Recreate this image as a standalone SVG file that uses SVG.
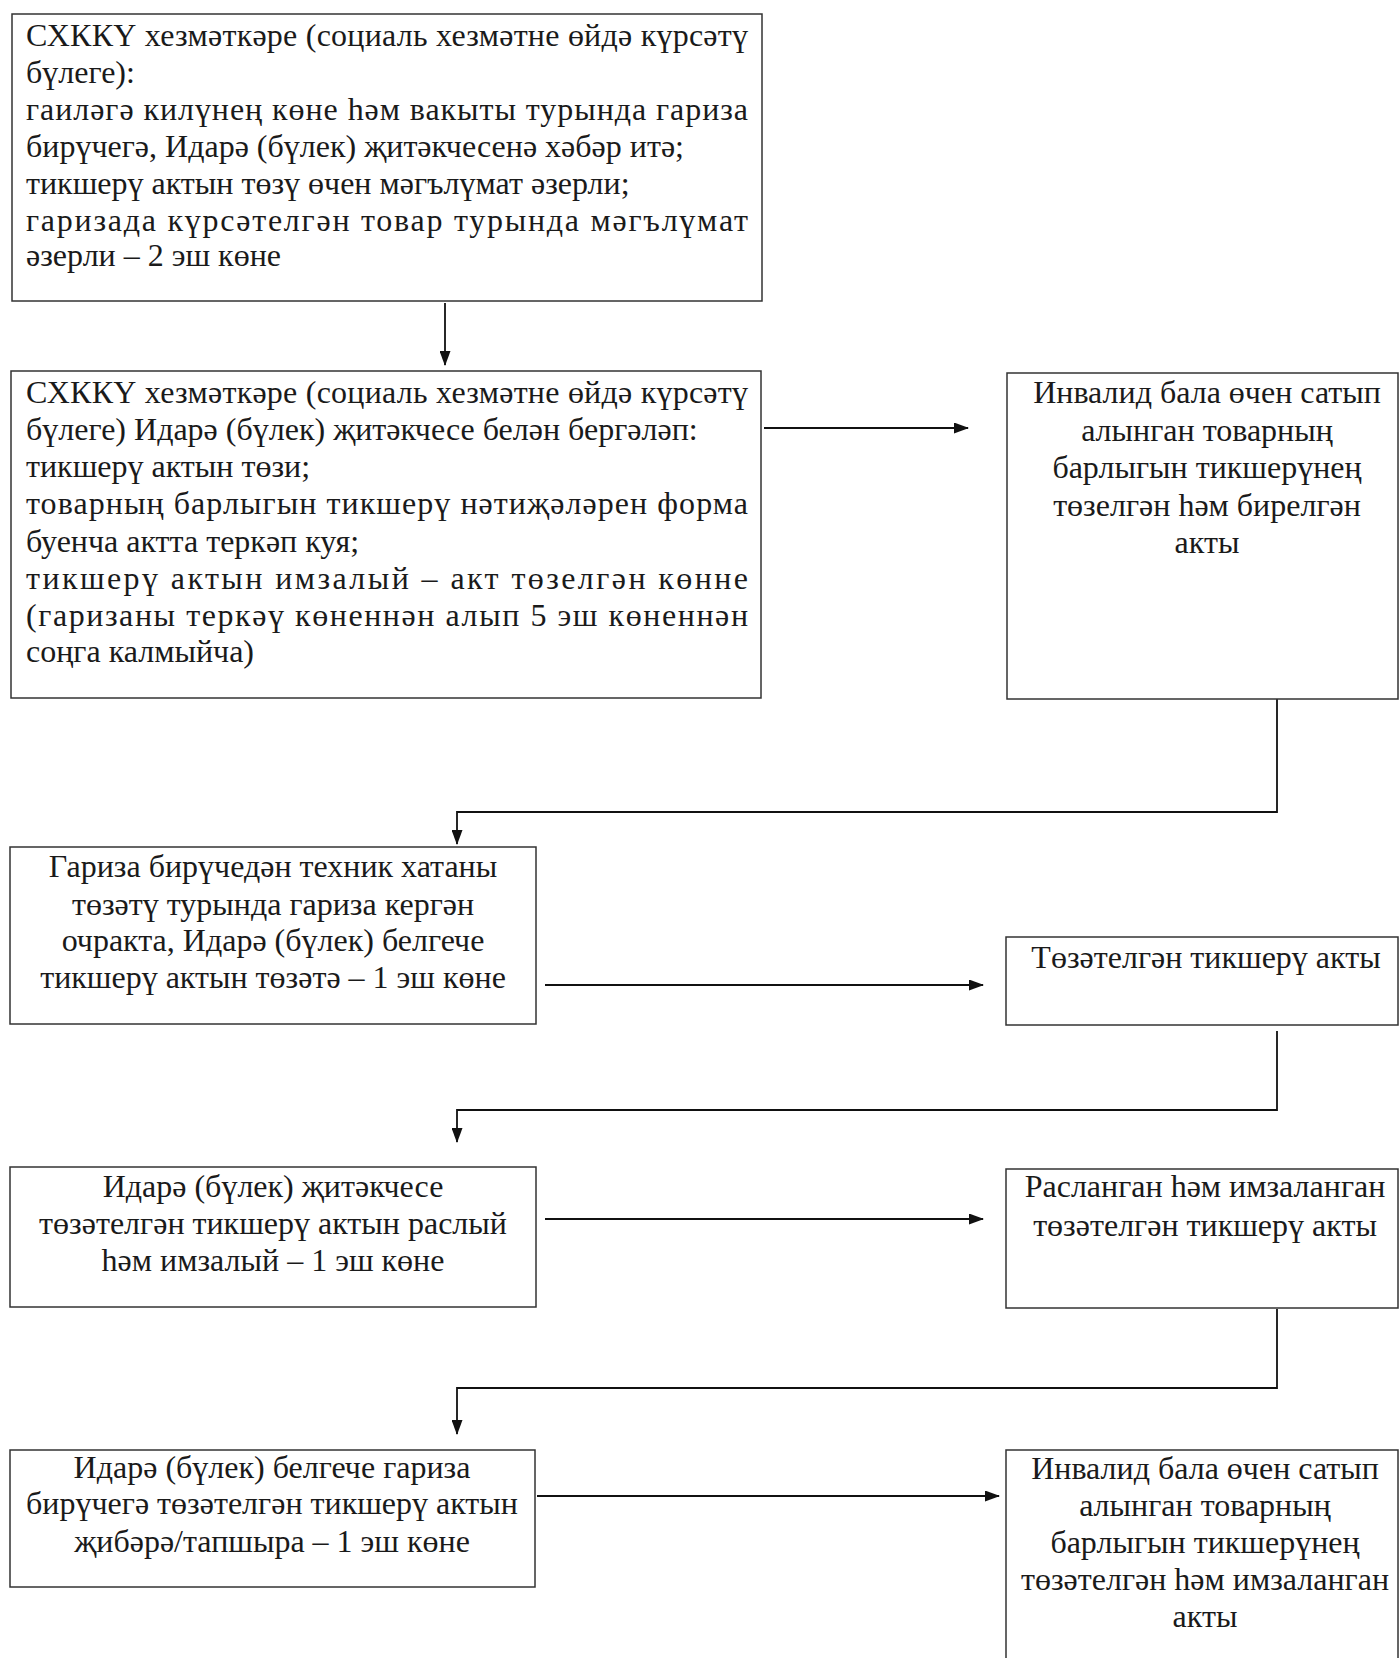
<svg xmlns="http://www.w3.org/2000/svg" width="1399" height="1658" viewBox="0 0 1399 1658">
<style>
.box{fill:#fff;stroke:#333;stroke-width:1.5}
.t{font-family:"Liberation Serif","DejaVu Serif",serif;font-size:32px;fill:#1a1a1a}
.c{text-anchor:middle}
.ln{fill:none;stroke:#111;stroke-width:1.8}
</style>
<defs>
<marker id="ah" markerWidth="15" markerHeight="11" refX="14" refY="5.5" orient="auto" markerUnits="userSpaceOnUse">
<path d="M0,0 L15,5.5 L0,11 Z" fill="#111"/>
</marker>
</defs>
<rect width="1399" height="1658" fill="#fff"/>
<g id="connectors">
<path class="ln" d="M445,303 V365" marker-end="url(#ah)"/>
<path class="ln" d="M764,428 H968" marker-end="url(#ah)"/>
<path class="ln" d="M1277,699 V812 H457 V844" marker-end="url(#ah)"/>
<path class="ln" d="M545,985 H983" marker-end="url(#ah)"/>
<path class="ln" d="M1277,1031 V1110 H457 V1142" marker-end="url(#ah)"/>
<path class="ln" d="M545,1219 H983" marker-end="url(#ah)"/>
<path class="ln" d="M1277,1309 V1388 H457 V1434" marker-end="url(#ah)"/>
<path class="ln" d="M537,1496 H999" marker-end="url(#ah)"/>
</g>
<g id="n1">
<rect class="box" x="12" y="14" width="750" height="287"/>
<text class="t" x="26" y="46" textLength="722" lengthAdjust="spacing">СХККҮ хезмәткәре (социаль хезмәтне өйдә күрсәтү</text>
<text class="t" x="26" y="83">бүлеге):</text>
<text class="t" x="26" y="120" textLength="722" lengthAdjust="spacing">гаиләгә килүнең көне һәм вакыты турында гариза</text>
<text class="t" x="26" y="157">бирүчегә, Идарә (бүлек) җитәкчесенә хәбәр итә;</text>
<text class="t" x="26" y="194">тикшерү актын төзү өчен мәгълүмат әзерли;</text>
<text class="t" x="26" y="231" textLength="722" lengthAdjust="spacing">гаризада күрсәтелгән товар турында мәгълүмат</text>
<text class="t" x="26" y="266">әзерли – 2 эш көне</text>
</g>
<g id="n2">
<rect class="box" x="11" y="371" width="750" height="327"/>
<text class="t" x="26" y="403" textLength="722" lengthAdjust="spacing">СХККҮ хезмәткәре (социаль хезмәтне өйдә күрсәтү</text>
<text class="t" x="26" y="440">бүлеге) Идарә (бүлек) җитәкчесе белән бергәләп:</text>
<text class="t" x="26" y="477">тикшерү актын төзи;</text>
<text class="t" x="26" y="514" textLength="722" lengthAdjust="spacing">товарның барлыгын тикшерү нәтиҗәләрен форма</text>
<text class="t" x="26" y="552">буенча актта теркәп куя;</text>
<text class="t" x="26" y="589" textLength="722" lengthAdjust="spacing">тикшерү актын имзалый – акт төзелгән көнне</text>
<text class="t" x="26" y="626" textLength="722" lengthAdjust="spacing">(гаризаны теркәү көненнән алып 5 эш көненнән</text>
<text class="t" x="26" y="662">соңга калмыйча)</text>
</g>
<g id="n3">
<rect class="box" x="1007" y="373" width="391" height="326"/>
<text class="t c" x="1207" y="403">Инвалид бала өчен сатып</text>
<text class="t c" x="1207" y="441">алынган товарның</text>
<text class="t c" x="1207" y="478">барлыгын тикшерүнең</text>
<text class="t c" x="1207" y="516">төзелгән һәм бирелгән</text>
<text class="t c" x="1207" y="553">акты</text>
</g>
<g id="n4">
<rect class="box" x="10" y="847" width="526" height="177"/>
<text class="t c" x="273" y="877">Гариза бирүчедән техник хатаны</text>
<text class="t c" x="273" y="915">төзәтү турында гариза кергән</text>
<text class="t c" x="273" y="951">очракта, Идарә (бүлек) белгече</text>
<text class="t c" x="273" y="988">тикшерү актын төзәтә – 1 эш көне</text>
</g>
<g id="n5">
<rect class="box" x="1006" y="937" width="392" height="88"/>
<text class="t c" x="1206" y="968">Төзәтелгән тикшерү акты</text>
</g>
<g id="n6">
<rect class="box" x="10" y="1167" width="526" height="140"/>
<text class="t c" x="273" y="1197">Идарә (бүлек) җитәкчесе</text>
<text class="t c" x="273" y="1234">төзәтелгән тикшерү актын раслый</text>
<text class="t c" x="273" y="1271">һәм имзалый – 1 эш көне</text>
</g>
<g id="n7">
<rect class="box" x="1006" y="1169" width="392" height="139"/>
<text class="t c" x="1205" y="1197">Расланган һәм имзаланган</text>
<text class="t c" x="1205" y="1236">төзәтелгән тикшерү акты</text>
</g>
<g id="n8">
<rect class="box" x="10" y="1450" width="525" height="137"/>
<text class="t c" x="272" y="1478">Идарә (бүлек) белгече гариза</text>
<text class="t c" x="272" y="1514">бирүчегә төзәтелгән тикшерү актын</text>
<text class="t c" x="272" y="1552">җибәрә/тапшыра – 1 эш көне</text>
</g>
<g id="n9">
<rect class="box" x="1006" y="1450" width="392" height="220"/>
<text class="t c" x="1205" y="1479">Инвалид бала өчен сатып</text>
<text class="t c" x="1205" y="1516">алынган товарның</text>
<text class="t c" x="1205" y="1553">барлыгын тикшерүнең</text>
<text class="t c" x="1205" y="1590">төзәтелгән һәм имзаланган</text>
<text class="t c" x="1205" y="1627">акты</text>
</g>
</svg>
